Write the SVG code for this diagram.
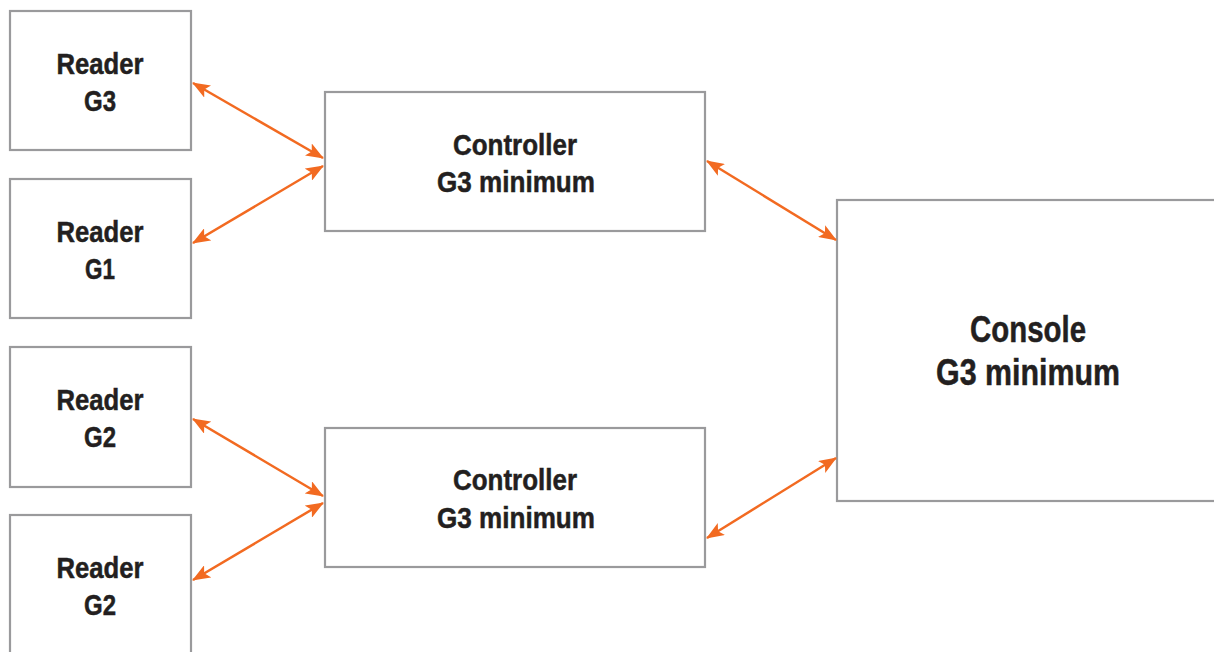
<svg xmlns="http://www.w3.org/2000/svg" width="1214" height="652" viewBox="0 0 1214 652">
<defs>
<style>
.box{fill:#fff;stroke:#9a9a9c;stroke-width:2.2}
.t{font-family:"Liberation Sans",Arial,sans-serif;font-weight:bold;fill:#231f20;stroke:#231f20;stroke-width:0.5;text-anchor:middle}
.s{font-size:30px}
.l{font-size:36px}
.c{stroke:#f26a21;stroke-width:2.5;fill:none;marker-start:url(#ah);marker-end:url(#ah)}
</style>
<marker id="ah" viewBox="0 0 18 14" refX="17" refY="7" markerWidth="18" markerHeight="14" markerUnits="userSpaceOnUse" orient="auto-start-reverse">
<path d="M0,0 L18,7 L0,14 L4,7 Z" fill="#f26a21"/>
</marker>
</defs>
<rect width="1214" height="652" fill="#fff"/>
<g id="reader-g3">
<rect class="box" x="10" y="11" width="181" height="139"/>
<text class="t s" x="100" y="74" textLength="87" lengthAdjust="spacingAndGlyphs">Reader</text>
<text class="t s" x="100" y="111" textLength="32" lengthAdjust="spacingAndGlyphs">G3</text>
</g>
<g id="reader-g1">
<rect class="box" x="10" y="179" width="181" height="139"/>
<text class="t s" x="100" y="242" textLength="87" lengthAdjust="spacingAndGlyphs">Reader</text>
<text class="t s" x="100" y="279" textLength="30" lengthAdjust="spacingAndGlyphs">G1</text>
</g>
<g id="reader-g2a">
<rect class="box" x="10" y="347" width="181" height="140"/>
<text class="t s" x="100" y="410" textLength="87" lengthAdjust="spacingAndGlyphs">Reader</text>
<text class="t s" x="100" y="447" textLength="32" lengthAdjust="spacingAndGlyphs">G2</text>
</g>
<g id="reader-g2b">
<rect class="box" x="10" y="515" width="181" height="160"/>
<text class="t s" x="100" y="578" textLength="87" lengthAdjust="spacingAndGlyphs">Reader</text>
<text class="t s" x="100" y="615" textLength="32" lengthAdjust="spacingAndGlyphs">G2</text>
</g>
<g id="controller-top">
<rect class="box" x="325" y="92" width="380" height="139"/>
<text class="t s" x="515" y="155" textLength="124" lengthAdjust="spacingAndGlyphs">Controller</text>
<text class="t s" x="516" y="192" textLength="158" lengthAdjust="spacingAndGlyphs">G3 minimum</text>
</g>
<g id="controller-bottom">
<rect class="box" x="325" y="428" width="380" height="139"/>
<text class="t s" x="515" y="490" textLength="124" lengthAdjust="spacingAndGlyphs">Controller</text>
<text class="t s" x="516" y="528" textLength="158" lengthAdjust="spacingAndGlyphs">G3 minimum</text>
</g>
<g id="console">
<rect class="box" x="837" y="200" width="400" height="301"/>
<text class="t l" x="1028" y="342" textLength="116" lengthAdjust="spacingAndGlyphs">Console</text>
<text class="t l" x="1028" y="385" textLength="184" lengthAdjust="spacingAndGlyphs">G3 minimum</text>
</g>
<g id="connectors">
<line class="c" x1="193" y1="83" x2="323" y2="158"/>
<line class="c" x1="193" y1="243" x2="323" y2="166"/>
<line class="c" x1="193" y1="419" x2="323" y2="496"/>
<line class="c" x1="193" y1="580" x2="323" y2="503"/>
<line class="c" x1="707" y1="161" x2="836" y2="240"/>
<line class="c" x1="707" y1="538" x2="836" y2="458"/>
</g>
</svg>
